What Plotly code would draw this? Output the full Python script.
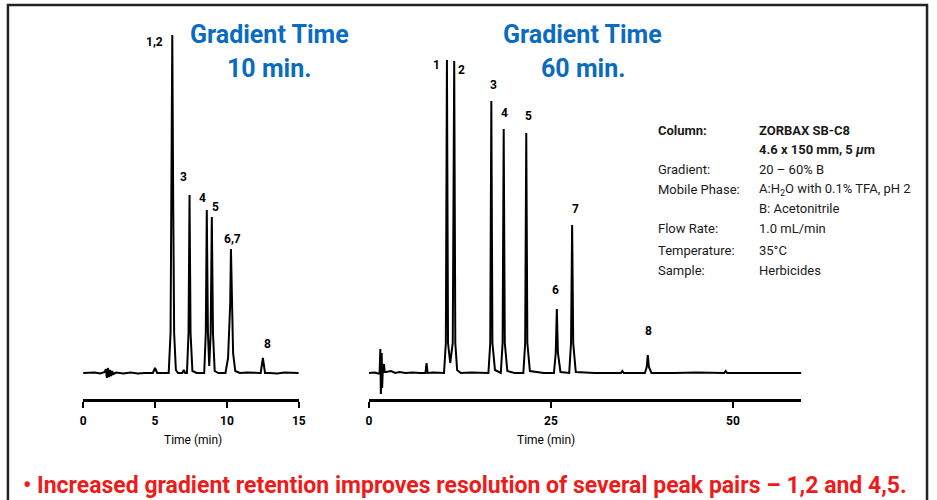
import plotly.graph_objects as go

# ---------------- data ----------------
# Left chromatogram: gradient time 10 min  (time in min, detector response in arbitrary units)
t10 = [0.0, 0.8, 1.2, 1.5, 1.58, 1.65, 1.72, 1.8, 1.87, 1.95, 2.02, 2.1, 2.3, 2.8, 3.3, 3.8, 4.3,
       4.85, 5.0, 5.15, 5.6, 5.95, 6.08, 6.15, 6.2, 6.26, 6.33, 6.45, 6.6, 6.9, 7.0, 7.1,
       7.22, 7.33, 7.4, 7.47, 7.6, 7.9, 8.2, 8.42, 8.53, 8.6, 8.68, 8.77, 8.87, 8.95, 9.03, 9.15,
       9.4, 9.9, 10.08, 10.17, 10.23, 10.28, 10.35, 10.43, 10.58, 10.9, 11.4, 11.9, 12.35,
       12.5, 12.65, 13.0, 13.5, 14.0, 14.5, 15.0]
y10 = [0, 0.5, -0.5, 1, 4, -5, 5, -4, 3, -3, 2, -1, 0.5, -0.5, 0.5, -0.5, 0,
       0, 5, 0, 0, 0, 40, 230, 338, 180, 40, 3, 0, 0, 3, 0,
       0, 40, 178, 40, 2, 0, 0, 0, 40, 163, 40, 7, 40, 156, 40, 2,
       0, 0, 15, 50, 70, 124, 60, 20, 2, 0, 0.5, 0, 0,
       15, 0, 0, -0.5, 0.5, 0, 0]

# Right chromatogram: gradient time 60 min
t60 = [0.0, 0.8, 1.2, 1.45, 1.55, 1.62, 1.68, 1.74, 1.8, 1.87, 2.05, 2.15, 2.3, 3.0, 3.6, 4.2, 5.0,
       6.0, 7.0, 7.75, 7.9, 8.05, 8.8, 9.6, 10.3, 10.55, 10.7, 10.85, 11.15, 11.5, 11.7, 11.85,
       12.1, 12.6, 14.0, 16.4, 16.65, 16.8, 16.95, 17.3, 18.1, 18.35, 18.5, 18.65, 19.0, 20.0,
       21.2, 21.45, 21.6, 21.75, 22.1, 24.0, 25.4, 25.65, 25.8, 25.95, 26.3, 27.5, 27.75, 27.9,
       28.05, 28.4, 31.0, 34.6, 34.8, 35.0, 37.9, 38.15, 38.3, 38.45, 38.8, 42.0, 45.0, 48.8,
       49.0, 49.2, 53.0, 56.0, 59.4]
y60 = [0, 0.5, -0.5, 0, 24, -21, -10, 20, -15, 0, 9, 1, 1, 2, 0, 1, 0,
       0.5, 0, 0, 10, 0, 0.5, 0, 0, 30, 313, 30, 10, 30, 312, 30,
       3, 0, 0.5, 0, 30, 272, 30, 3, 0, 30, 244, 30, 2, 0,
       0, 30, 240, 30, 2, 0, 0, 20, 64, 20, 1, 0, 30, 148,
       30, 1, 0, 0, 2, 0, 0, 6, 18, 6, 0, 0, 0.5, 0,
       2, 0, 0, 0.5, 0]

# peak labels: text, retention time, peak height, label offset (px)
lab10 = ["1,2", "3", "4", "5", "6,7", "8"]
pk10_t = [6.2, 7.4, 8.6, 8.95, 10.28, 12.5]
pk10_h = [338, 178, 163, 156, 124, 15]
off10 = [(-18, -7), (-6, 18), (-4, 12), (4, 10), (2, 10), (5, 14)]

lab60 = ["1", "2", "3", "4", "5", "6", "7", "8"]
pk60_t = [10.7, 11.7, 16.8, 18.5, 21.6, 25.8, 27.9, 38.3]
pk60_h = [313, 312, 272, 244, 240, 64, 148, 18]
off60 = [(-10, -5), (7, -9), (2, 16), (1, 16), (2, 17), (-1, 19), (3, 16), (1, 24)]

ticks10 = [0, 5, 10, 15]
ticks60 = [0, 25, 50]

cond_labels = ["Gradient:", "Mobile Phase:", "", "Flow Rate:", "Temperature:", "Sample:"]
cond_values = ["20 – 60% B", "A:H<sub>2</sub>O with 0.1% TFA, pH 2", "B: Acetonitrile",
               "1.0 mL/min", "35°C", "Herbicides"]

W, H = 937, 500
FONT = "Roboto, Liberation Sans, sans-serif"
BLUE = "#0b6cbf"
RED = "#ee1b1b"

def px(x):
    return x / W

def py(y):
    return 1 - y / H

fig = go.Figure()
fig.add_trace(go.Scatter(x=t10, y=y10, mode="lines", line=dict(color="black", width=2),
                         xaxis="x", yaxis="y", hoverinfo="skip", showlegend=False))
fig.add_trace(go.Scatter(x=t60, y=y60, mode="lines", line=dict(color="black", width=2),
                         xaxis="x2", yaxis="y2", hoverinfo="skip", showlegend=False))

ydom = [py(399), py(30)]
yrange = [-26, 343]
axis_common = dict(showline=True, linecolor="black", linewidth=2.5, ticks="outside",
                   ticklen=6, tickwidth=2, tickcolor="black", showgrid=False, zeroline=False,
                   ticklabelstandoff=3,
                   tickfont=dict(family=FONT, size=12, color="black", weight="bold"), fixedrange=True)
fig.update_layout(
    width=W, height=H, margin=dict(l=0, r=0, t=0, b=0),
    paper_bgcolor="white", plot_bgcolor="rgba(0,0,0,0)",
    xaxis=dict(domain=[px(81), px(299)], range=[0, 15], tickvals=ticks10, anchor="y", **axis_common),
    yaxis=dict(domain=ydom, range=yrange, visible=False, anchor="x"),
    xaxis2=dict(domain=[px(370), px(807)], range=[0, 59.4], tickvals=ticks60, anchor="y2", **axis_common),
    yaxis2=dict(domain=ydom, range=yrange, visible=False, anchor="x2"),
)

lab_font = dict(family=FONT, size=12, color="black", weight="bold")
ann = []
for txt, t, h, (dx, dy) in zip(lab10, pk10_t, pk10_h, off10):
    ann.append(dict(x=t, y=h, xref="x", yref="y", text=txt, showarrow=False, xshift=dx, yshift=dy,
                    xanchor="center", yanchor="middle", font=lab_font))
for txt, t, h, (dx, dy) in zip(lab60, pk60_t, pk60_h, off60):
    ann.append(dict(x=t, y=h, xref="x2", yref="y2", text=txt, showarrow=False, xshift=dx, yshift=dy,
                    xanchor="center", yanchor="middle", font=lab_font))

def paper_text(x, y, text, font, xanchor="center"):
    return dict(x=px(x), y=py(y), xref="paper", yref="paper", text=text, showarrow=False,
                xanchor=xanchor, yanchor="middle", font=font)

# axis titles
tfont = dict(family=FONT, size=12, color="black")
ann.append(paper_text(192, 440, "Time (min)", tfont))
ann.append(paper_text(549, 440, "Time (min)", tfont))

# titles
title_font = dict(family=FONT, size=25, color=BLUE, weight="bold")
for cx, l1, l2 in [(269, "Gradient Time", "10 min."), (586, "Gradient Time", "60 min.")]:
    ann.append(paper_text(cx, 34, l1, title_font))
    ann.append(paper_text(cx, 68, l2, title_font))

# conditions box
info_font = dict(family=FONT, size=13, color="#1a1a1a")
info_bold = dict(family=FONT, size=13, color="#1a1a1a", weight="bold")
ann.append(paper_text(660, 130, "Column:", info_bold, "left"))
ann.append(paper_text(762, 130, "ZORBAX SB-C8", info_bold, "left"))
ann.append(paper_text(762, 149, "4.6 x 150 mm, 5 <i>μ</i>m", info_bold, "left"))
rows_y = [169, 189, 209, 229, 250, 270]
for lbl, val, ry in zip(cond_labels, cond_values, rows_y):
    if lbl:
        ann.append(paper_text(660, ry, lbl, info_font, "left"))
    ann.append(paper_text(762, ry, val, info_font, "left"))

# bottom statement
ann.append(paper_text(467, 485,
                      "• Increased gradient retention improves resolution of several peak pairs – 1,2 and 4,5.",
                      dict(family=FONT, size=23, color=RED, weight="bold")))

fig.update_layout(annotations=ann)
fig.add_shape(type="rect", xref="paper", yref="paper", x0=px(5), x1=px(934), y0=-0.05, y1=py(5),
              line=dict(color="#222222", width=2.5), fillcolor="rgba(0,0,0,0)", layer="below")

fig.write_html("out.html")
